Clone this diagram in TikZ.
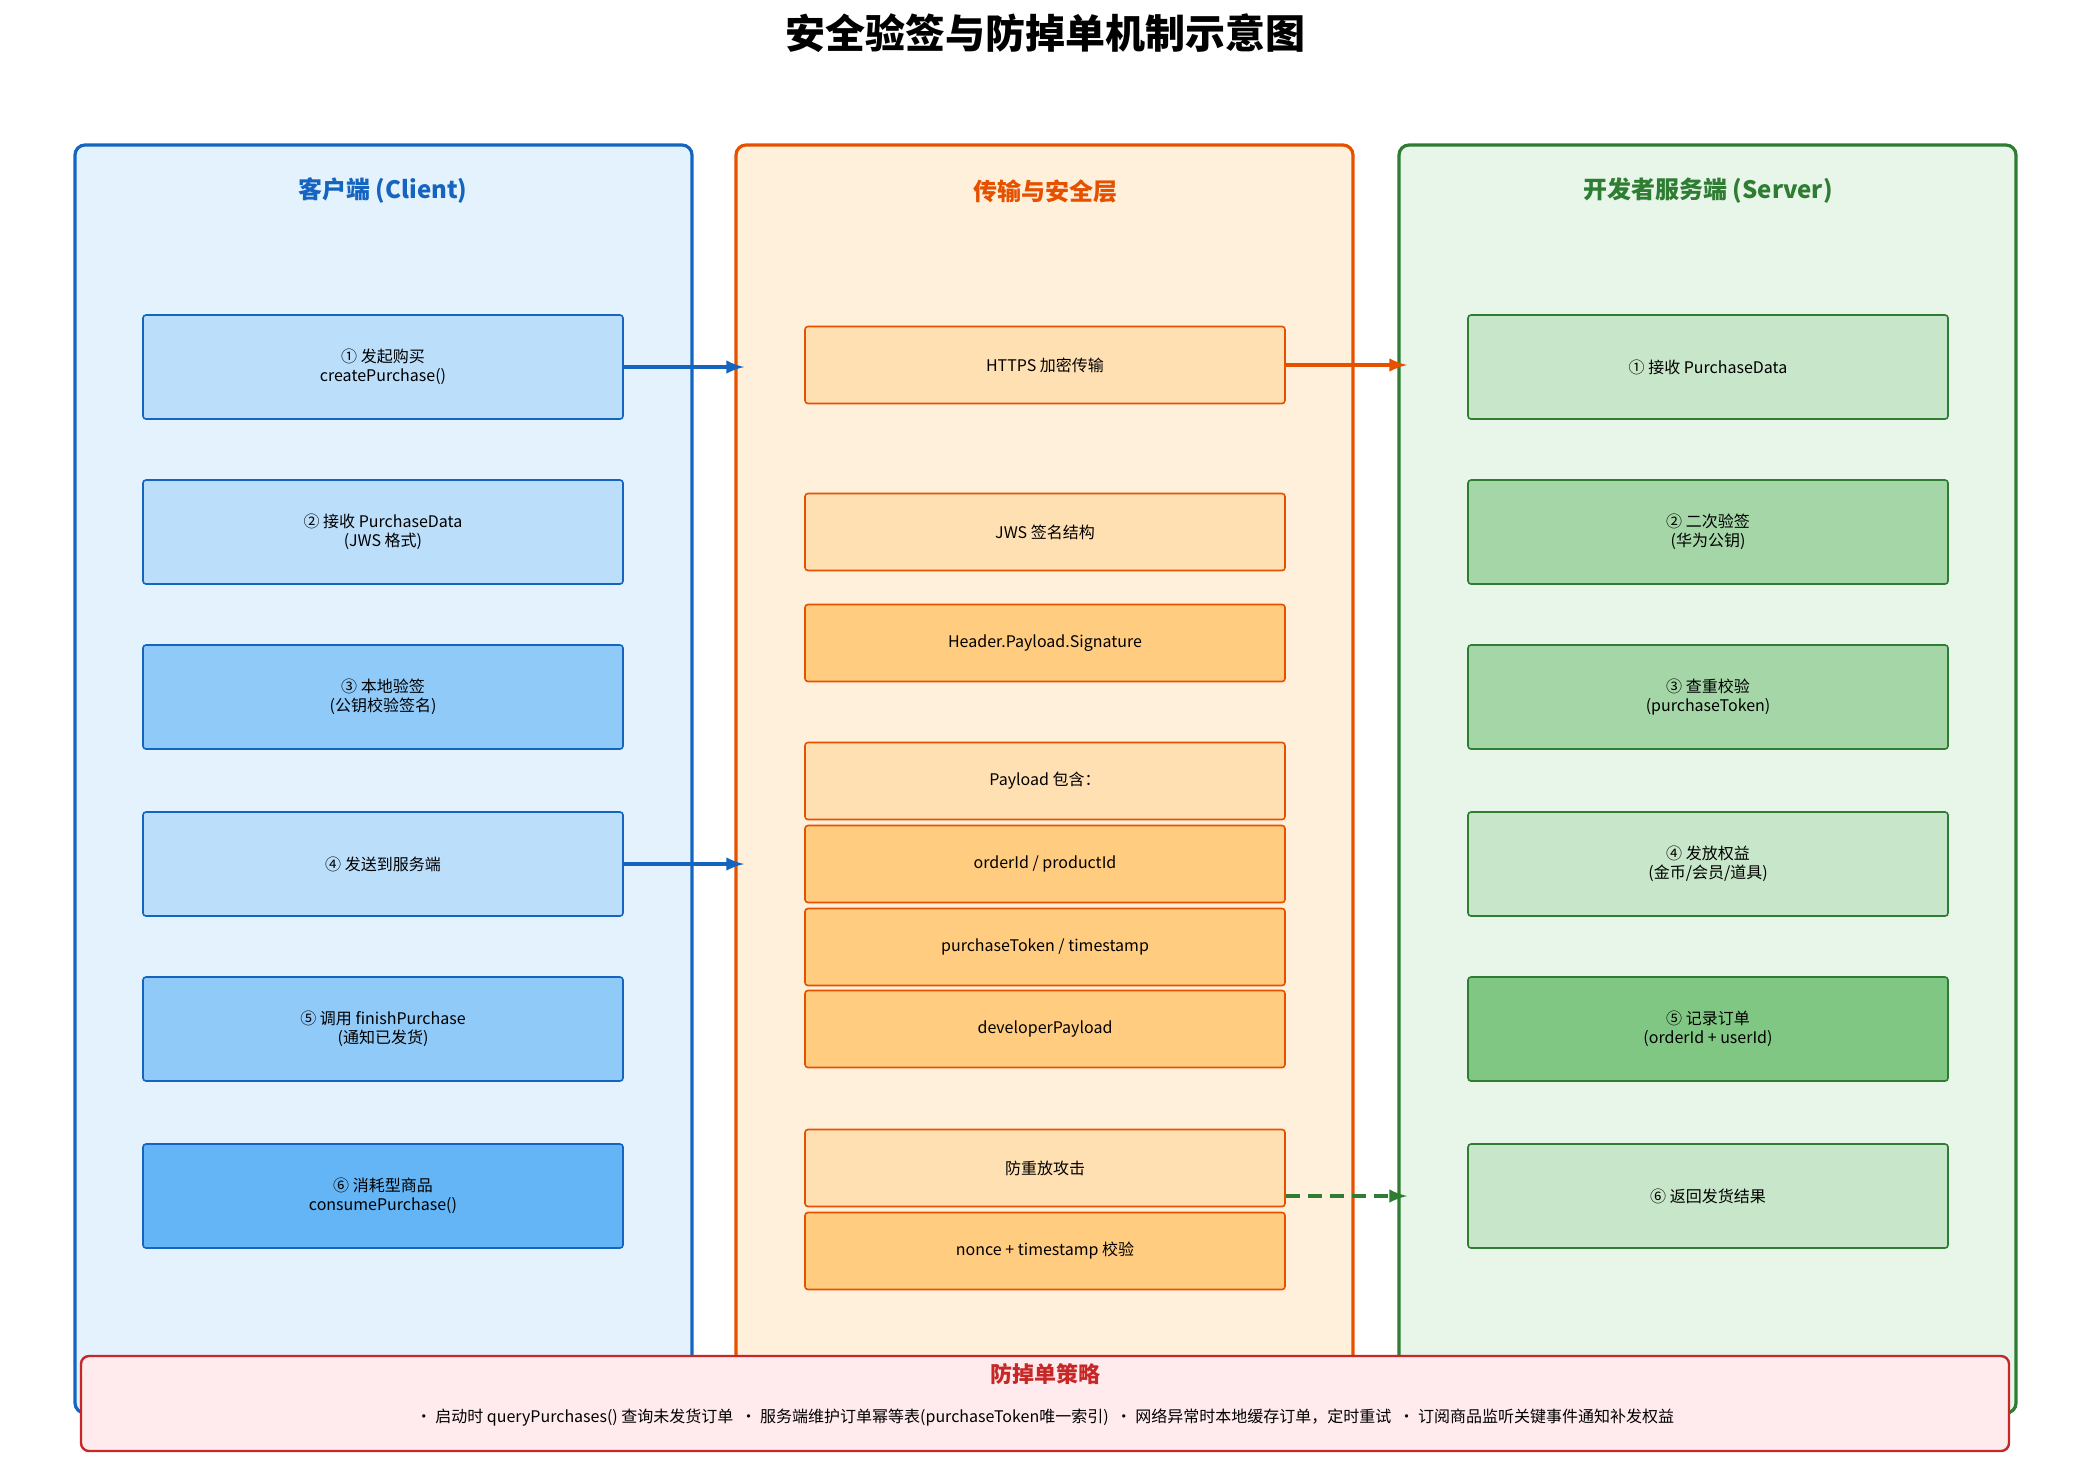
\documentclass[tikz,border=0pt]{standalone}
\usepackage{fontspec}
\setmainfont{Noto Sans CJK SC}
\definecolor{cliB}{HTML}{1565C0}\definecolor{cliF}{HTML}{E3F2FD}
\definecolor{cliA}{HTML}{BBDEFB}\definecolor{cliC}{HTML}{90CAF9}\definecolor{cliD}{HTML}{64B5F6}
\definecolor{secB}{HTML}{E65100}\definecolor{secF}{HTML}{FFF0DC}
\definecolor{secA}{HTML}{FFE0B2}\definecolor{secC}{HTML}{FFCC80}
\definecolor{srvB}{HTML}{2E7D32}\definecolor{srvF}{HTML}{E8F5E9}
\definecolor{srvA}{HTML}{C8E6C9}\definecolor{srvC}{HTML}{A5D6A7}\definecolor{srvD}{HTML}{81C784}
\definecolor{tipB}{HTML}{C62828}\definecolor{tipF}{HTML}{FFEBEE}
\tikzset{every picture/.style={line width=0.5pt},
  panel/.style={rounded corners=5pt,line width=1.6pt},
  stepbox/.style={draw,rounded corners=1.5pt,line width=0.8pt,minimum width=240pt,align=center,font=\fontsize{8}{9.5}\selectfont,inner sep=0pt},
  cstep/.style={stepbox,draw=cliB,minimum height=52pt},
  sstep/.style={stepbox,draw=srvB,minimum height=52pt},
  tstep/.style={stepbox,draw=secB,minimum height=38.5pt},
  head/.style={font=\bfseries\fontsize{12}{14}\selectfont},
  flow/.style={-latex,line width=2pt}}
\begin{document}
\begin{tikzpicture}[x=0.5pt,y=-0.5pt]
\useasboundingbox (0,0) rectangle (2080,1480);

% title
\node[font=\bfseries\fontsize{20}{24}\selectfont] (title) at (1045,33) {安全验签与防掉单机制示意图};

% panels
\draw[panel,draw=cliB,fill=cliF] (75,145) rectangle (692,1413);
\draw[panel,draw=secB,fill=secF] (736,145) rectangle (1353,1413);
\draw[panel,draw=srvB,fill=srvF] (1399,145) rectangle (2016,1413);
\node[head,text=cliB] (tcli) at (383,191) {客户端 (Client)};
\node[head,text=secB] (tsec) at (1045,191) {传输与安全层};
\node[head,text=srvB] (tsrv) at (1708,191) {开发者服务端 (Server)};

% client
\node[cstep,fill=cliA] (c1) at (383,367) {① 发起购买\\createPurchase()};
\node[cstep,fill=cliA] (c2) at (383,532) {② 接收 PurchaseData\\(JWS 格式)};
\node[cstep,fill=cliC] (c3) at (383,697) {③ 本地验签\\(公钥校验签名)};
\node[cstep,fill=cliA] (c4) at (383,864) {④ 发送到服务端};
\node[cstep,fill=cliC] (c5) at (383,1029) {⑤ 调用 finishPurchase\\(通知已发货)};
\node[cstep,fill=cliD] (c6) at (383,1196) {⑥ 消耗型商品\\consumePurchase()};

% transport
\node[tstep,fill=secA] (https) at (1045,365) {HTTPS 加密传输};
\node[tstep,fill=secA] (jws) at (1045,532) {JWS 签名结构};
\node[tstep,fill=secC] (hps) at (1045,643) {Header.Payload.Signature};
\node[tstep,fill=secA] (pay) at (1045,781) {Payload 包含：};
\node[tstep,fill=secC] (oid) at (1045,864) {orderId / productId};
\node[tstep,fill=secC] (ptk) at (1045,947) {purchaseToken / timestamp};
\node[tstep,fill=secC] (dev) at (1045,1029) {developerPayload};
\node[tstep,fill=secA] (rep) at (1045,1168) {防重放攻击};
\node[tstep,fill=secC] (non) at (1045,1251) {nonce + timestamp 校验};

% server
\node[sstep,fill=srvA] (s1) at (1708,367) {① 接收 PurchaseData};
\node[sstep,fill=srvC] (s2) at (1708,532) {② 二次验签\\(华为公钥)};
\node[sstep,fill=srvC] (s3) at (1708,697) {③ 查重校验\\(purchaseToken)};
\node[sstep,fill=srvA] (s4) at (1708,864) {④ 发放权益\\(金币/会员/道具)};
\node[sstep,fill=srvD] (s5) at (1708,1029) {⑤ 记录订单\\(orderId + userId)};
\node[sstep,fill=srvA] (s6) at (1708,1196) {⑥ 返回发货结果};

% connectors
\coordinate (inSec1) at (744,367);
\coordinate (inSec4) at (744,864);
\coordinate (inSrv1) at (1407,365);
\coordinate (inSrv6) at (1407,1196);
\draw[flow,cliB] (c1.east) -- (inSec1);
\draw[flow,cliB] (c4.east) -- (inSec4);
\draw[flow,secB] (https.east) -- (inSrv1);
\draw[flow,srvB,dashed,dash pattern=on 7pt off 4pt] (rep.east |- inSrv6) -- (inSrv6);

% strategy
\draw[rounded corners=4pt,line width=1.2pt,draw=tipB,fill=tipF] (81,1356) rectangle (2009,1451);
\node[font=\bfseries\fontsize{11}{13}\selectfont,text=tipB] (ttip) at (1045,1374) {防掉单策略};
\node[font=\fontsize{8}{10}\selectfont] (tips) at (1045,1418) {• 启动时 queryPurchases() 查询未发货订单 \ • 服务端维护订单幂等表(purchaseToken唯一索引) \ • 网络异常时本地缓存订单，定时重试 \ • 订阅商品监听关键事件通知补发权益};
\end{tikzpicture}
\end{document}
